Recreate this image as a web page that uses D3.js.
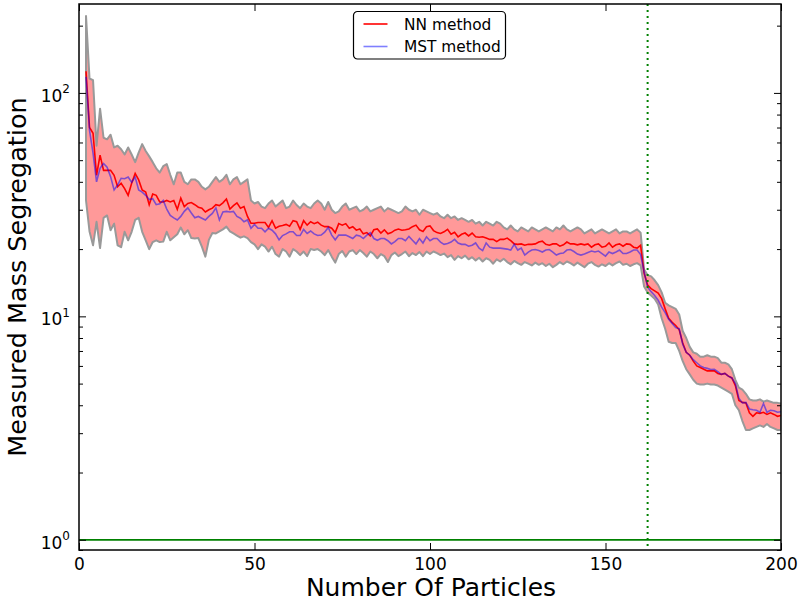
<!DOCTYPE html>
<html>
<head>
<meta charset="utf-8">
<script src="https://cdn.jsdelivr.net/npm/d3@7"></script>
<style>
    body { margin: 0; background: #fff; }
    text { font-family: "DejaVu Sans", sans-serif; fill: #000; }
</style>
</head>
<body>
<div id="chart"></div>
<script>
// values, one per particle count (2 .. 200)
var firstCount = 2;
var lastCount = 200;

var nnMethod = [
    125, 70, 66, 42.8, 52.7, 45, 45, 45, 42.8,
    38, 39.4, 37.3, 34.8, 39.4, 43.6, 40.8, 36.8, 36, 31.6,
    35.3, 34.8, 32.5, 32.5, 33, 32.5, 33, 30.1, 33.8, 31,
    32, 32.3, 31.6, 30.8, 30.5, 29.3, 30, 30.5, 31.6, 31.3,
    32.2, 33.5, 30.2, 31.3, 32.2, 30.5, 31, 28, 26.1, 26.1,
    26.3, 26.3, 26.3, 25, 26.8, 24.8, 25.3, 25.5, 25.8, 25.3,
    26.8, 26.5, 24.5, 26.8, 25.6, 26.5, 26, 26.4, 25.6, 25.2,
    25.2, 24.8, 23.7, 26, 25.6, 26, 24.8, 25.2, 24.3, 24.6,
    23.4, 23.7, 22.9, 24.4, 24.6, 23.6, 24.4, 23.4, 23.7, 24.3,
    24.6, 24.3, 24.4, 24.6, 25.2, 25.6, 24.4, 24, 25.2, 25.4,
    24.2, 23.7, 23.5, 23.9, 24.5, 23.3, 23.8, 22.7, 23.3, 23.6,
    22.9, 23.6, 22.7, 22.6, 22.7, 22.4, 22.1, 22.1, 21.6, 22.1,
    22.1, 22.4, 21.8, 21.1, 21, 21.1, 20.8, 21, 21, 21.1,
    21.5, 21.7, 21, 20.8, 21.1, 21.1, 20.6, 20.9, 21.5, 21.1,
    21.1, 20.9, 21.1, 20.9, 21.1, 20.4, 20.9, 21.1, 20.4, 20.6,
    21.3, 20.4, 20.9, 21.1, 20.6, 21.1, 21, 20.4, 20.2, 20.8,
    15.6, 13.8, 13.3, 13, 12.7, 12, 10.8, 9.8, 9.4, 9.1,
    8.7, 7.6, 6.9, 6.7, 6.3, 6, 5.9, 5.8, 5.7, 5.7,
    5.7, 5.55, 5.5, 5.55, 5.4, 5.3, 4.9, 4.2, 4.12, 4.1,
    3.7, 3.57, 3.7, 3.68, 3.72, 3.64, 3.7, 3.64, 3.57, 3.6
];

var mstMethod = [
    118, 68, 53.8, 40, 46, 48.3, 46.5, 42.2, 36.8,
    38.7, 41.5, 41.3, 42, 39.8, 42, 36.8, 36, 34.8, 33.3,
    33.6, 31.6, 31.9, 33, 30.2, 28.3, 27.6, 27, 28, 29.5,
    30.6, 29, 27.6, 28, 27.5, 27, 28, 28.9, 30.6, 27,
    29.3, 29.5, 29.3, 29.5, 28, 27.5, 26.5, 27, 24.8, 25.8,
    24.8, 24.8, 23.9, 24.8, 24.3, 23.4, 22, 23, 23.4, 23.9,
    23.9, 23, 23, 24.5, 23.5, 24.1, 23.4, 23, 23.1, 23.8,
    25, 23.1, 22, 23.1, 23.1, 23.1, 22.7, 22.3, 23.1, 22.9,
    22.3, 23.1, 23.7, 22.3, 21.9, 22.3, 22.3, 21.8, 21.1, 21.6,
    22.3, 22.3, 21.8, 22.8, 21.9, 21.1, 22.3, 21.3, 22.7, 21.8,
    22.3, 22.3, 21.5, 21, 21.2, 21.5, 22.1, 21.3, 21, 21,
    20.6, 20.8, 21.3, 20.2, 19.7, 21.3, 20.4, 20.2, 20.2, 20.2,
    20.1, 20, 19.8, 21, 19.8, 20.2, 18.8, 19.4, 19.8, 19.9,
    19.7, 19.4, 19.8, 19.9, 19.4, 18.8, 19.1, 19.2, 19.8, 19.9,
    19.5, 19, 18.8, 19, 19.3, 19.6, 19.4, 19.6, 19.1, 18.6,
    19.4, 19.1, 19.4, 19.8, 19.1, 19.1, 19.4, 19.8, 19.8, 18.9,
    15.8, 13.5, 12.9, 12.4, 11.8, 11, 10.4, 9.7, 9.3, 8.9,
    8.8, 7.5, 6.9, 6.7, 6.4, 6.2, 6, 5.9, 5.85, 5.78,
    5.8, 5.65, 5.5, 5.55, 5.4, 5.3, 5, 4.3, 4.1, 4.12,
    3.85, 3.82, 3.8, 3.72, 4.07, 3.72, 3.8, 3.78, 3.72, 3.74
];

var upperBound = [
    221, 116, 114, 58, 85, 63, 62, 65, 57,
    58, 56, 53, 57, 53, 49, 54, 59, 55, 52,
    49, 46, 44, 47, 48, 43, 39, 44, 44, 40,
    39, 41, 41, 40, 38, 37, 38, 40, 42, 40,
    41, 43, 39, 41, 42, 39, 40, 41, 33, 32,
    32.5, 31, 30.5, 32, 33, 31, 32, 33, 30.5, 31,
    33, 31.5, 30.5, 32, 31, 30.5, 32, 33, 32, 30,
    32.5, 30, 29, 29.5, 31, 32, 30, 30.5, 31, 29.5,
    30, 31, 29.5, 30, 30.5, 31, 29.5, 30.5, 30, 29.5,
    29, 29.5, 31, 30, 29.5, 30, 28.5, 30, 29.5, 29,
    28.5, 29, 28, 27.5, 28.5, 27.5, 28, 27, 27.5, 27,
    26.5, 27, 26, 26.5, 25.5, 26.5, 26, 25.5, 26.5, 26,
    25, 24.5, 25.5, 24.5, 24, 25, 24.5, 24, 25, 24.5,
    24, 24.5, 25, 24.5, 24, 25, 24.5, 25.5, 24.5, 24,
    24.5, 25, 24.5, 23.5, 24, 24.5, 23.5, 24, 24.5, 24,
    23.5, 24, 24.5, 23.5, 24, 24, 23.5, 24, 24.5, 23.7,
    16.2, 15.3, 15.1, 14.5, 13.8, 12.8, 11.5, 11.2, 11, 10.8,
    10.2, 8.6, 8, 7.3, 6.9, 6.8, 6.6, 6.6, 6.7, 6.6,
    6.6, 6.5, 6.2, 6.2, 6.1, 5.8, 5.2, 4.8, 4.7, 4.5,
    4.25, 4.2, 4.2, 4.25, 4.15, 4.2, 4.15, 4.1, 4.1, 4.07
];

var lowerBound = [
    33, 24, 20.8, 26.5, 20.2, 27.6, 28.3, 24.3, 26,
    20.8, 20.4, 23.9, 21.9, 23.9, 27, 27.6, 23.9, 21.9, 20,
    21.5, 21.9, 21.5, 21.6, 23.9, 21.9, 22.6, 23.3, 25, 23.3,
    24.3, 22.4, 22.3, 22.4, 20.5, 18.5, 22, 23.6, 23.5, 24,
    24.5, 25.2, 24, 23.5, 23, 22.5, 22.8, 22.4, 21.5, 21,
    20, 21, 20.5, 19.5, 20.5, 19, 18.5, 20, 19.5, 18.5,
    20, 19.5, 18.8, 19.5, 18.6, 20, 19.8, 20, 19.5, 18.8,
    19.8, 18.5, 17.4, 19, 19.6, 18.5, 19.5, 19.8, 19, 19.8,
    19.2, 18.5, 19.5, 19, 18.2, 19, 18.6, 17.5, 18.8, 19.3,
    18.6, 19, 19.5, 18.6, 19.2, 18.8, 19.4, 18.6, 19.5, 19,
    19.5, 19.2, 18.8, 19.1, 18.4, 18.8, 17.9, 18.6, 18.2, 18.7,
    18, 18.4, 17.8, 18.3, 17.6, 18.2, 17.9, 17.2, 18, 17.6,
    18.1, 17.5, 17.1, 17.7, 17.3, 17, 17.5, 17.2, 16.9, 17.4,
    17, 17.3, 16.8, 17.2, 16.6, 17, 17.5, 17.1, 17.6, 17.3,
    16.9, 17.4, 17, 16.6, 17.2, 17.5, 17, 16.7, 17.1, 16.8,
    17.3, 16.9, 17.3, 17.6, 17, 17.2, 16.8, 17.1, 17.3, 16.9,
    13.6, 12.8, 12.4, 12, 11.3, 9.8, 8.8, 7.7, 7.6, 7.6,
    7, 6.3, 5.8, 5.5, 5.2, 5, 4.95, 4.95, 5, 4.95,
    4.95, 4.9, 4.8, 4.7, 4.6, 4.5, 4, 3.8, 3.4, 3.1,
    3.1, 3.15, 3.2, 3.25, 3.2, 3.3, 3.2, 3.15, 3.1, 3.1
];

var xTicks = [0, 50, 100, 150, 200];
var yMajorTicks = [1, 10, 100];
var cutoffCount = 162;
var referenceLevel = 1;
var legendNames = ["NN method", "MST method"];

var width = 802, height = 604;
var margin = { top: 4, right: 21, bottom: 54, left: 79 };
var innerW = width - margin.left - margin.right;
var innerH = height - margin.top - margin.bottom;

var rows = d3.range(firstCount, lastCount + 1).map(function (n, i) {
    return { n: n, nn: nnMethod[i], mst: mstMethod[i], hi: upperBound[i], lo: lowerBound[i] };
});

var x = d3.scaleLinear().domain([0, 200]).range([0, innerW]);
var y = d3.scaleLog().domain([0.9, 250]).range([innerH, 0]);

var svg = d3.select("#chart").append("svg")
    .attr("width", width)
    .attr("height", height);

var g = svg.append("g")
    .attr("transform", "translate(" + margin.left + "," + margin.top + ")");

g.append("clipPath").attr("id", "clip")
    .append("rect").attr("width", innerW).attr("height", innerH);

var plot = g.append("g").attr("clip-path", "url(#clip)");

// spread band
var band = d3.area()
    .x(function (d) { return x(d.n); })
    .y0(function (d) { return y(d.lo); })
    .y1(function (d) { return y(d.hi); });

plot.append("path")
    .datum(rows)
    .attr("d", band)
    .attr("fill", "#ff9999")
    .attr("stroke", "#999")
    .attr("stroke-width", 2)
    .attr("stroke-linejoin", "round");

var nnLine = d3.line()
    .x(function (d) { return x(d.n); })
    .y(function (d) { return y(d.nn); });

var mstLine = d3.line()
    .x(function (d) { return x(d.n); })
    .y(function (d) { return y(d.mst); });

plot.append("path")
    .datum(rows)
    .attr("d", nnLine)
    .attr("fill", "none")
    .attr("stroke", "#ff0000")
    .attr("stroke-width", 1.6);

plot.append("path")
    .datum(rows)
    .attr("d", mstLine)
    .attr("fill", "none")
    .attr("stroke", "#0000ff")
    .attr("stroke-opacity", 0.5)
    .attr("stroke-width", 1.6);

// reference lines
plot.append("line")
    .attr("x1", 0).attr("x2", innerW)
    .attr("y1", y(referenceLevel)).attr("y2", y(referenceLevel))
    .attr("stroke", "#008000")
    .attr("stroke-width", 1.8);

plot.append("line")
    .attr("x1", x(cutoffCount)).attr("x2", x(cutoffCount))
    .attr("y1", 0).attr("y2", innerH)
    .attr("stroke", "#008000")
    .attr("stroke-width", 2)
    .attr("stroke-dasharray", "2,4");

// axes, ticks pointing inwards on all four sides
var minorTicks = y.ticks().filter(function (v) {
    return yMajorTicks.indexOf(v) < 0;
});

var xBottom = g.append("g")
    .attr("transform", "translate(0," + innerH + ")")
    .call(d3.axisBottom(x).tickValues(xTicks).tickSize(-7).tickPadding(8).tickFormat(d3.format("d")));
xBottom.selectAll("text").attr("font-size", 17).attr("dy", "0.71em");

var xTop = g.append("g")
    .call(d3.axisTop(x).tickValues(xTicks).tickSize(-7).tickFormat(""));

var yLeftMinor = g.append("g")
    .call(d3.axisLeft(y).tickValues(minorTicks).tickSize(-4).tickFormat(""));
var yRightMinor = g.append("g")
    .attr("transform", "translate(" + innerW + ",0)")
    .call(d3.axisRight(y).tickValues(minorTicks).tickSize(-4).tickFormat(""));
var yRight = g.append("g")
    .attr("transform", "translate(" + innerW + ",0)")
    .call(d3.axisRight(y).tickValues(yMajorTicks).tickSize(-7).tickFormat(""));
var yLeft = g.append("g")
    .call(d3.axisLeft(y).tickValues(yMajorTicks).tickSize(-7).tickFormat(""));

g.selectAll(".domain").remove();
g.selectAll(".tick line").attr("stroke", "#000").attr("stroke-width", 1);

yMajorTicks.forEach(function (v) {
    var t = g.append("text")
        .attr("x", -9)
        .attr("y", y(v) + 9)
        .attr("text-anchor", "end")
        .attr("font-size", 17);
    t.append("tspan").text("10");
    t.append("tspan")
        .attr("font-size", 12)
        .attr("dy", -8.5)
        .text(String(Math.round(Math.log10(v))));
});

g.append("rect")
    .attr("width", innerW)
    .attr("height", innerH)
    .attr("fill", "none")
    .attr("stroke", "#000")
    .attr("stroke-width", 1.5);

// axis titles
svg.append("text")
    .attr("x", margin.left + innerW / 2 + 1)
    .attr("y", 596)
    .attr("text-anchor", "middle")
    .attr("font-size", 25)
    .text("Number Of Particles");

svg.append("text")
    .attr("transform", "translate(26," + (margin.top + innerH / 2) + ") rotate(-90)")
    .attr("text-anchor", "middle")
    .attr("font-size", 25.5)
    .text("Measured Mass Segregation");

// legend
var legend = svg.append("g").attr("transform", "translate(353.5,11.5)");
legend.append("rect")
    .attr("width", 152)
    .attr("height", 47.5)
    .attr("rx", 4)
    .attr("fill", "#fff")
    .attr("stroke", "#000")
    .attr("stroke-width", 1.2);

var legendStyles = [
    { color: "#ff0000", opacity: 1 },
    { color: "#0000ff", opacity: 0.5 }
];

legendNames.forEach(function (name, i) {
    var cy = 12.5 + i * 22.5;
    legend.append("line")
        .attr("x1", 10).attr("x2", 34)
        .attr("y1", cy).attr("y2", cy)
        .attr("stroke", legendStyles[i].color)
        .attr("stroke-opacity", legendStyles[i].opacity)
        .attr("stroke-width", 1.6);
    legend.append("text")
        .attr("x", 50.5)
        .attr("y", cy + 5.5)
        .attr("font-size", 15.4)
        .text(name);
});
</script>
</body>
</html>
